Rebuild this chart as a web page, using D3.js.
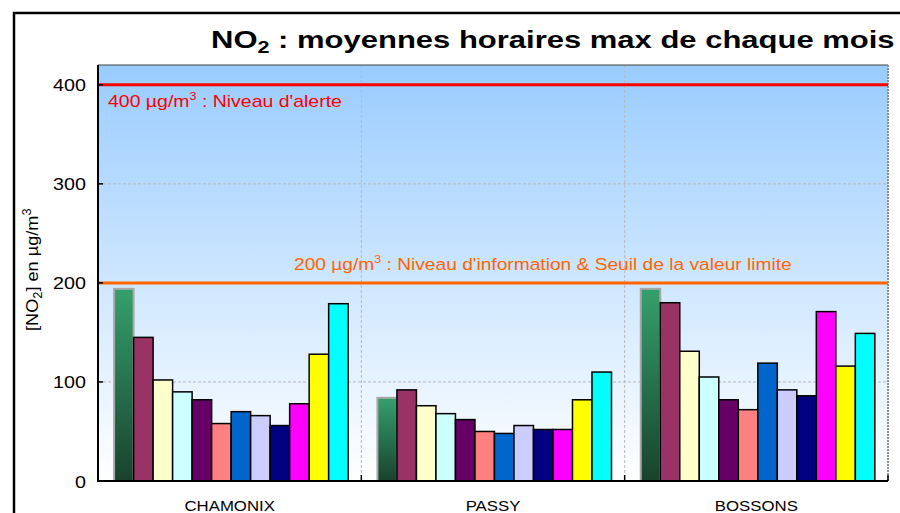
<!DOCTYPE html>
<html>
<head>
<meta charset="utf-8">
<script src="https://cdn.jsdelivr.net/npm/d3@7"></script>
<style>
  body { margin: 0; background: #fff; }
  text { font-family: Arial, "Liberation Sans", sans-serif; }
</style>
</head>
<body>
<div id="container"></div>
<script>
// data
const stations = ["CHAMONIX", "PASSY", "BOSSONS"];
const months = ["janv", "févr", "mars", "avr", "mai", "juin", "juil", "août", "sept", "oct", "nov", "déc"];
const chamonix = [194, 145, 102, 90, 82, 58, 70, 66, 56, 78, 128, 179];
const passy = [84, 92, 76, 68, 62, 50, 48, 56, 52, 52, 82, 110];
const bossons = [194, 180, 131, 105, 82, 72, 119, 92, 86, 171, 116, 149];
const monthColors = ["url(#greenGrad)", "#993366", "#ffffcc", "#ccffff", "#660066", "#ff8080",
                     "#0066cc", "#ccccff", "#000080", "#ff00ff", "#ffff00", "#00ffff"];
const yTicks = [0, 100, 200, 300, 400];
const seuilValues = [400, 200];
const seuilColors = ["#ff0000", "#ff6600"];

const rows = [];
[chamonix, passy, bossons].forEach((serie, i) => {
  serie.forEach((v, j) => rows.push({ station: stations[i], month: months[j], value: v, k: j }));
});

const W = 900, H = 513;
const plot = { left: 98, right: 888, top: 65, bottom: 481 };

let viz = d3.select("#container")
  .append("svg")
  .attr("width", W)
  .attr("height", H);

const defs = viz.append("defs");
const bg = defs.append("linearGradient").attr("id", "bgGrad")
  .attr("x1", 0).attr("y1", 0).attr("x2", 0).attr("y2", 1);
bg.append("stop").attr("offset", "0%").attr("stop-color", "#99ccff");
bg.append("stop").attr("offset", "100%").attr("stop-color", "#ffffff");
const gg = defs.append("linearGradient").attr("id", "greenGrad")
  .attr("x1", 0).attr("y1", 0).attr("x2", 0).attr("y2", 1);
gg.append("stop").attr("offset", "0%").attr("stop-color", "#35a06c");
gg.append("stop").attr("offset", "100%").attr("stop-color", "#18422d");

// outer frame
viz.append("rect")
  .attr("x", 14).attr("y", 13)
  .attr("width", 910).attr("height", 520)
  .attr("fill", "#fff").attr("stroke", "#000").attr("stroke-width", 2.5);

// scales
const x0 = d3.scaleBand().domain(stations).range([plot.left, plot.right]);
const x1 = d3.scaleBand().domain(months).range([0, x0.bandwidth()])
  .paddingInner(0).paddingOuter(0.75).align(0.55);
const y = d3.scaleLinear().domain([0, 420]).range([plot.bottom, plot.top]);

// plot background
viz.append("rect")
  .attr("x", plot.left).attr("y", plot.top)
  .attr("width", plot.right - plot.left).attr("height", plot.bottom - plot.top)
  .attr("fill", "url(#bgGrad)");

// grid
viz.append("g").selectAll("line").data(yTicks.filter(d => d > 0)).enter().append("line")
  .attr("x1", plot.left).attr("x2", plot.right)
  .attr("y1", d => y(d)).attr("y2", d => y(d))
  .attr("stroke", "#b8b8b8").attr("stroke-width", 1).attr("stroke-dasharray", "3,2");
viz.append("g").selectAll("line").data(stations.slice(1)).enter().append("line")
  .attr("x1", d => x0(d)).attr("x2", d => x0(d))
  .attr("y1", plot.top).attr("y2", plot.bottom)
  .attr("stroke", "#b8b8b8").attr("stroke-width", 1).attr("stroke-dasharray", "3,2");

// plot top and right borders
viz.append("line").attr("x1", plot.left).attr("x2", plot.right)
  .attr("y1", plot.top).attr("y2", plot.top)
  .attr("stroke", "#404040").attr("stroke-width", 1);
viz.append("line").attr("x1", plot.right).attr("x2", plot.right)
  .attr("y1", plot.top).attr("y2", plot.bottom)
  .attr("stroke", "#909090").attr("stroke-width", 2).attr("stroke-dasharray", "2,1");

// bars
viz.append("g").selectAll("rect").data(rows).enter().append("rect")
  .attr("x", d => x0(d.station) + x1(d.month))
  .attr("y", d => y(d.value))
  .attr("width", x1.bandwidth())
  .attr("height", d => y(0) - y(d.value))
  .attr("fill", d => monthColors[d.k])
  .attr("stroke", d => d.k == 0 ? "#a8a8a8" : "#000")
  .attr("stroke-width", d => d.k == 0 ? 2 : 1.5);

// threshold lines
viz.append("g").selectAll("line").data(seuilValues).enter().append("line")
  .attr("x1", plot.left).attr("x2", plot.right)
  .attr("y1", d => y(d)).attr("y2", d => y(d))
  .attr("stroke", (d, i) => seuilColors[i]).attr("stroke-width", 3);

// axes
viz.append("line").attr("x1", plot.left).attr("x2", plot.right)
  .attr("y1", plot.bottom).attr("y2", plot.bottom)
  .attr("stroke", "#000").attr("stroke-width", 2);
viz.append("line").attr("x1", plot.left).attr("x2", plot.left)
  .attr("y1", plot.top).attr("y2", plot.bottom + 1)
  .attr("stroke", "#000").attr("stroke-width", 2);
viz.append("g").selectAll("line").data(yTicks).enter().append("line")
  .attr("x1", plot.left).attr("x2", plot.left + 5)
  .attr("y1", d => y(d)).attr("y2", d => y(d))
  .attr("stroke", "#000").attr("stroke-width", 1.5);
viz.append("g").selectAll("line").data(stations.concat(["end"])).enter().append("line")
  .attr("x1", (d, i) => i < 3 ? x0(d) : plot.right)
  .attr("x2", (d, i) => i < 3 ? x0(d) : plot.right)
  .attr("y1", plot.bottom).attr("y2", plot.bottom - 6)
  .attr("stroke", "#000").attr("stroke-width", 1.5);

// tick labels (text of the picture is a bit stretched horizontally)
viz.append("g").selectAll("text").data(yTicks).enter().append("text")
  .text(d => d)
  .attr("text-anchor", "end")
  .attr("font-size", 17)
  .attr("fill", "#000")
  .attr("transform", d => "translate(86," + (y(d) + 6.5) + ") scale(1.16,1)");

viz.append("g").selectAll("text").data(stations).enter().append("text")
  .text(d => d)
  .attr("text-anchor", "middle")
  .attr("font-size", 15)
  .attr("fill", "#000")
  .attr("transform", d => "translate(" + (x0(d) + x0.bandwidth() / 2) + ",511) scale(1.12,1)");

// fit a text (built inside g) to a given width
function fit(g, x, y0, width, rotate) {
  const t = g.select("text");
  const w = t.node().getBBox().width;
  const k = width / w;
  if (rotate) {
    g.attr("transform", "translate(" + x + "," + y0 + ") rotate(-90) scale(" + k + ",1)");
  } else {
    g.attr("transform", "translate(" + x + "," + y0 + ") scale(" + k + ",1)");
  }
}

// title
var gt = viz.append("g");
var tt = gt.append("text").attr("font-size", 23).attr("font-weight", "bold").attr("fill", "#000");
tt.append("tspan").text("NO");
tt.append("tspan").text("2").attr("font-size", 16).attr("dy", 5);
tt.append("tspan").text(" : moyennes horaires max de chaque mois").attr("dy", -5);
fit(gt, 211, 48, 684, false);

// y axis title
var gy = viz.append("g");
var ty = gy.append("text").attr("font-size", 17).attr("fill", "#000").attr("text-anchor", "start");
ty.append("tspan").text("[NO");
ty.append("tspan").text("2").attr("font-size", 12).attr("dy", 4);
ty.append("tspan").text("] en µg/m").attr("dy", -4);
ty.append("tspan").text("3").attr("font-size", 12).attr("dy", -7);
fit(gy, 38, 331, 123, true);

// threshold labels
var gr = viz.append("g");
var tr = gr.append("text").attr("font-size", 17).attr("fill", seuilColors[0]);
tr.append("tspan").text("400 µg/m");
tr.append("tspan").text("3").attr("font-size", 11).attr("dy", -7);
tr.append("tspan").text(" : Niveau d'alerte").attr("dy", 7);
fit(gr, 108, 107, 234, false);

var go = viz.append("g");
var to = go.append("text").attr("font-size", 17).attr("fill", seuilColors[1]);
to.append("tspan").text("200 µg/m");
to.append("tspan").text("3").attr("font-size", 11).attr("dy", -7);
to.append("tspan").text(" : Niveau d'information & Seuil de la valeur limite").attr("dy", 7);
fit(go, 294, 270, 498, false);
</script>
</body>
</html>
